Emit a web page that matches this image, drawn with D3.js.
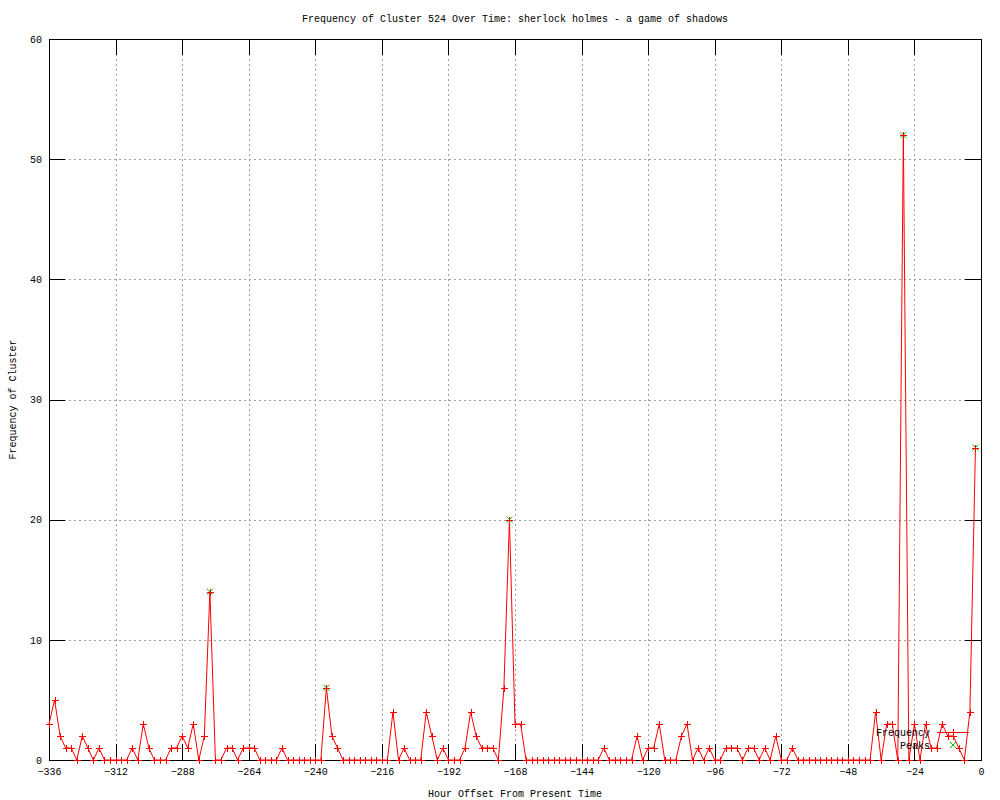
<!DOCTYPE html>
<html>
<head>
<meta charset="utf-8">
<script src="https://cdn.jsdelivr.net/npm/d3@7"></script>
<style>
body { margin: 0; background: #fff; }
text { font-family: "Liberation Mono", "DejaVu Sans Mono", monospace; font-size: 10px; fill: #000; }
</style>
</head>
<body>
<svg id="chart" width="1000" height="800"></svg>
<script>
// Frequency of cluster 524, one sample every 2 hours from -336 to -2
var hours = d3.range(-336, 0, 2);
var frequency = [
	3, 5, 2, 1, 1, 0, 2, 1, 0, 1, 0, 0, 0, 0, 0, 1, 0, 3, 1, 0,
	0, 0, 1, 1, 2, 1, 3, 0, 2, 14, 0, 0, 1, 1, 0, 1, 1, 1, 0, 0,
	0, 0, 1, 0, 0, 0, 0, 0, 0, 0, 6, 2, 1, 0, 0, 0, 0, 0, 0, 0,
	0, 0, 4, 0, 1, 0, 0, 0, 4, 2, 0, 1, 0, 0, 0, 1, 4, 2, 1, 1,
	1, 0, 6, 20, 3, 3, 0, 0, 0, 0, 0, 0, 0, 0, 0, 0, 0, 0, 0, 0,
	1, 0, 0, 0, 0, 0, 2, 0, 1, 1, 3, 0, 0, 0, 2, 3, 0, 1, 0, 1,
	0, 0, 1, 1, 1, 0, 1, 1, 0, 1, 0, 2, 0, 0, 1, 0, 0, 0, 0, 0,
	0, 0, 0, 0, 0, 0, 0, 0, 0, 4, 0, 3, 3, 0, 52, 0, 3, 0, 3, 1,
	1, 3, 2, 2, 1, 0, 4, 26
];
var peak_hours = [-278, -236, -170, -28, -2];
var peak_values = [14, 6, 20, 52, 26];
var x_ticks = [-336, -312, -288, -264, -240, -216, -192, -168, -144, -120, -96, -72, -48, -24, 0];
var y_ticks = [0, 10, 20, 30, 40, 50, 60];

var svg = d3.select("#chart");
var plot_left = 49, plot_right = 981, plot_top = 39, plot_bottom = 760;
var tick_len = 16;

var x = d3.scaleLinear().domain([-336, 0]).range([plot_left, plot_right]);
var y = d3.scaleLinear().domain([0, 60]).range([plot_bottom, plot_top]);

svg.append("rect").attr("width", 1000).attr("height", 800).attr("fill", "#fff");

// dotted grid
var grid = svg.append("g").attr("shape-rendering", "crispEdges");
grid.selectAll("line.gx")
	.data(x_ticks.slice(1, -1))
	.enter().append("line")
	.attr("x1", d => Math.round(x(d)) + 0.5).attr("x2", d => Math.round(x(d)) + 0.5)
	.attr("y1", plot_top).attr("y2", plot_bottom)
	.attr("stroke", "#a0a0a0").attr("stroke-dasharray", "2,3");
grid.selectAll("line.gy")
	.data(y_ticks.slice(1, -1))
	.enter().append("line")
	.attr("y1", d => Math.round(y(d)) + 0.5).attr("y2", d => Math.round(y(d)) + 0.5)
	.attr("x1", plot_left).attr("x2", plot_right)
	.attr("stroke", "#a0a0a0").attr("stroke-dasharray", "2,3");

// axes via d3, ticks drawn inward and mirrored
var x_axis = d3.axisBottom(x).tickValues(x_ticks).tickSize(0).tickPadding(8);
var gx = svg.append("g").attr("transform", "translate(0," + plot_bottom + ")").call(x_axis);
gx.select(".domain").remove();
gx.selectAll("text").attr("font-family", null).attr("font-size", null).text(d => d == 0 ? "0" : "\u2212" + Math.abs(d));

var y_axis = d3.axisLeft(y).tickValues(y_ticks).tickSize(0).tickPadding(7);
var gy = svg.append("g").attr("transform", "translate(" + plot_left + ",0)").call(y_axis);
gy.select(".domain").remove();
gy.selectAll("text").attr("font-family", null).attr("font-size", null);

var ticks = svg.append("g").attr("stroke", "#000").attr("shape-rendering", "crispEdges");
x_ticks.forEach(t => {
	var px = Math.round(x(t)) + 0.5;
	ticks.append("line").attr("x1", px).attr("x2", px).attr("y1", plot_bottom).attr("y2", plot_bottom - tick_len);
	ticks.append("line").attr("x1", px).attr("x2", px).attr("y1", plot_top).attr("y2", plot_top + tick_len);
});
y_ticks.forEach(t => {
	var py = Math.round(y(t)) + 0.5;
	ticks.append("line").attr("y1", py).attr("y2", py).attr("x1", plot_left).attr("x2", plot_left + tick_len);
	ticks.append("line").attr("y1", py).attr("y2", py).attr("x1", plot_right).attr("x2", plot_right - tick_len);
});

svg.append("rect")
	.attr("x", plot_left + 0.5).attr("y", plot_top + 0.5)
	.attr("width", plot_right - plot_left).attr("height", plot_bottom - plot_top)
	.attr("fill", "none").attr("stroke", "#000").attr("shape-rendering", "crispEdges");

// frequency line + markers
var series = hours.map((h, i) => ({h: h, v: frequency[i]}));
var line = d3.line().x(d => x(d.h)).y(d => y(d.v));
svg.append("path")
	.datum(series)
	.attr("d", line)
	.attr("fill", "none").attr("stroke", "#ff0000").attr("stroke-width", 1);

var plus = "M-3.5,0H3.5M0,-3.5V3.5";
var cross = "M-3,-3L3,3M-3,3L3,-3";

// green peak crosses first, red plus marks end up on top of them
svg.append("g").selectAll("path")
	.data(peak_hours)
	.enter().append("path")
	.attr("transform", (d, i) => "translate(" + x(d) + "," + y(peak_values[i]) + ")")
	.attr("d", cross).attr("stroke", "#00c000").attr("fill", "none");

svg.append("g").selectAll("path")
	.data(series)
	.enter().append("path")
	.attr("transform", d => "translate(" + (Math.round(x(d.h)) + 0.5) + "," + (Math.round(y(d.v)) + 0.5) + ")")
	.attr("d", plus).attr("stroke", "#ff0000").attr("fill", "none").attr("shape-rendering", "crispEdges");

// legend
var key = svg.append("g");
key.append("text").attr("x", 930).attr("y", 736).attr("text-anchor", "end").text("Frequency");
key.append("line").attr("x1", 937).attr("x2", 969).attr("y1", 732.5).attr("y2", 732.5).attr("stroke", "#ff0000");
key.append("path").attr("transform", "translate(953.5,732.5)").attr("d", plus).attr("stroke", "#ff0000").attr("fill", "none").attr("shape-rendering", "crispEdges");
key.append("text").attr("x", 930).attr("y", 749).attr("text-anchor", "end").text("Peaks");
key.append("path").attr("transform", "translate(953,745)").attr("d", cross).attr("stroke", "#00c000").attr("fill", "none");

// titles
svg.append("text").attr("x", (plot_left + plot_right) / 2).attr("y", 22).attr("text-anchor", "middle")
	.text("Frequency of Cluster 524 Over Time: sherlock holmes - a game of shadows");
svg.append("text").attr("x", (plot_left + plot_right) / 2).attr("y", 797).attr("text-anchor", "middle")
	.text("Hour Offset From Present Time");
svg.append("text").attr("transform", "translate(16," + (plot_top + plot_bottom) / 2 + ") rotate(-90)")
	.attr("text-anchor", "middle")
	.text("Frequency of Cluster");
</script>
</body>
</html>
